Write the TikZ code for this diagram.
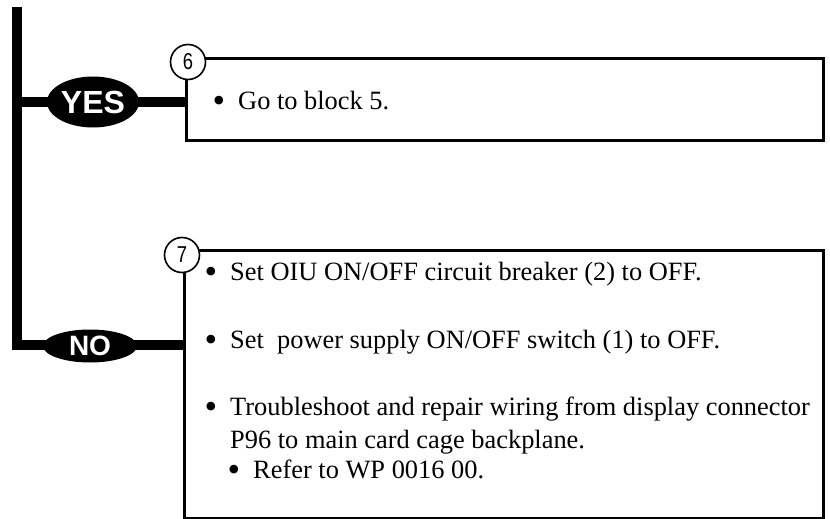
\documentclass[tikz,border=0pt]{standalone}
\usepackage{fontspec}
\setmainfont{Liberation Serif}
\newfontfamily\answerfont{Liberation Sans}
\newfontfamily\numfont[FakeStretch=0.8]{Liberation Sans}
\usetikzlibrary{shapes.geometric}

\newcommand{\bul}{\llap{\raisebox{-3pt}{\fontsize{36}{36}\selectfont\textbullet}\hspace{13pt}}}

\begin{document}
\begin{tikzpicture}[x=1pt, y=-1pt,
    trunk/.style={line width=10pt, line join=miter},
    answer/.style={ellipse, fill=black, text=white, inner sep=0pt},
    blockbox/.style={draw, line width=3pt, fill=white, anchor=north west, inner sep=0pt},
    blocknum/.style={circle, draw, line width=1.6pt, fill=white, minimum size=35pt,
      inner sep=0pt, font=\numfont\fontsize{23}{23}\selectfont},
    item/.style={anchor=base west, inner sep=0pt, font=\fontsize{26.4}{30}\selectfont}]
  \useasboundingbox (0,0) rectangle (830,519);
  % The two result blocks.
  \node[blockbox, minimum width=637pt, minimum height=82pt] (box6) at (185,57) {};
  \node[blockbox, minimum width=639pt, minimum height=268pt] (box7) at (183,249) {};
  % Decision trunk and branches.
  \coordinate (top) at (17,7);
  \coordinate (corner) at (17,345);
  \coordinate (yesjoin) at (17,102);
  \draw[trunk] (top) -- (corner) -- (corner -| box7.west);
  \draw[trunk] (yesjoin) -- (yesjoin -| box6.west);
  % YES / NO answers.
  \node[answer, minimum width=92pt, minimum height=51pt,
    font=\answerfont\bfseries\fontsize{32}{32}\selectfont] (yes) at (93,102) {YES};
  \node[answer, minimum width=94pt, minimum height=33pt,
    font=\answerfont\bfseries\fontsize{28}{28}\selectfont] (no) at (90,346) {NO};
  % Block numbers.
  \node[blocknum] (num6) at (188,62) {6};
  \node[blocknum] (num7) at (182,255) {7};
  % Block texts.
  \node[item] (go) at (238,109) {\bul Go to block 5.};
  \node[item] (oiu) at (230,280) {\bul Set OIU ON/OFF circuit breaker (2) to OFF.};
  \node[item] (psu) at (230,348) {\bul Set~ power supply ON/OFF switch (1) to OFF.};
  \node[item] (wire) at (230,415) {\bul Troubleshoot and repair wiring from display connector};
  \node[item] (wire2) at (230,448) {P96 to main card cage backplane.};
  \node[item] (wp) at (253,478) {\bul Refer to WP 0016 00.};
\end{tikzpicture}
\end{document}
